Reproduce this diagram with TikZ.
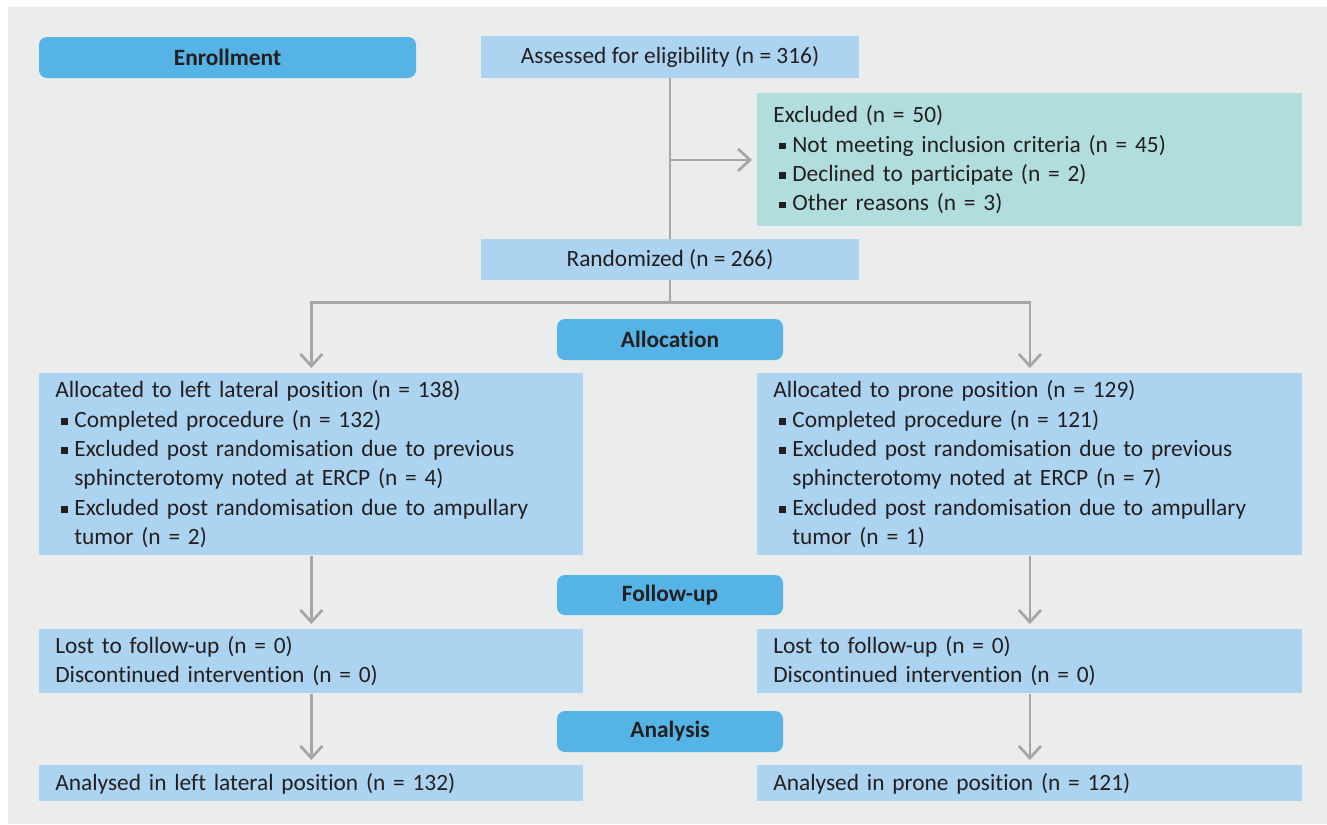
\documentclass[tikz,border=0pt]{standalone}
\usepackage{fontspec}
\setmainfont{Carlito}[Ligatures=NoCommon]
\usetikzlibrary{arrows.meta}
\definecolor{phaseblue}{HTML}{55B3E6}
\definecolor{boxblue}{HTML}{ACD3F0}
\definecolor{boxteal}{HTML}{B1DDDC}
\definecolor{bggray}{HTML}{EBECEC}
\definecolor{linegray}{HTML}{A6A6A6}
\definecolor{inkdark}{HTML}{231F20}
\newcommand{\sqb}{\hspace*{0.12cm}\rule[0.055cm]{0.13cm}{0.13cm}\hspace*{0.13cm}}
\newcommand{\ind}{\hspace*{0.38cm}}
\begin{document}
\begin{tikzpicture}[
  txt/.style={text=inkdark,font=\fontsize{13.3pt}{16.7pt}\selectfont},
  phase/.style={txt,rounded corners=0.16cm,fill=phaseblue,minimum height=0.82cm,font=\fontsize{13.3pt}{16.7pt}\selectfont\bfseries},
  lbox/.style={txt,fill=boxblue,anchor=north west,inner xsep=0.32cm,align=left},
  conn/.style={draw=linegray,line width=0.054cm},
  arr/.style={conn,-{Straight Barb[length=0.24cm,width=0.44cm,line width=0.054cm]},shorten >=0.1cm}]
\useasboundingbox (0,0) rectangle (26.54,-16.48);
\fill[bggray] (0.16,-0.14) rectangle (26.54,-16.48);
% enrollment
\node (enroll) at (4.55cm,-1.15cm) [phase,minimum width=7.54cm] {Enrollment};
\node (assess) at (13.40cm,-1.14cm) [txt,fill=boxblue,minimum width=7.56cm,minimum height=0.84cm] {Assessed for eligibility (n = 316)};
\node (excl) at (15.14cm,-1.86cm) [lbox,fill=boxteal,text width=10.26cm,minimum height=2.66cm] {Excluded (n = 50)\\
\sqb Not meeting inclusion criteria (n = 45)\\
\sqb Declined to participate (n = 2)\\
\sqb Other reasons (n = 3)};
\node (rand) at (13.40cm,-5.19cm) [txt,fill=boxblue,minimum width=7.56cm,minimum height=0.82cm] {Randomized (n = 266)};
% allocation
\node (alloc) at (13.40cm,-6.79cm) [phase,minimum width=4.52cm] {Allocation};
\node (allocL) at (0.78cm,-7.46cm) [lbox,text width=10.24cm,minimum height=3.64cm] {Allocated to left lateral position (n = 138)\\
\sqb Completed procedure (n = 132)\\
\sqb Excluded post randomisation due to previous\\
\ind sphincterotomy noted at ERCP (n = 4)\\
\sqb Excluded post randomisation due to ampullary\\
\ind tumor (n = 2)};
\node (allocR) at (15.14cm,-7.46cm) [lbox,text width=10.26cm,minimum height=3.64cm] {Allocated to prone position (n = 129)\\
\sqb Completed procedure (n = 121)\\
\sqb Excluded post randomisation due to previous\\
\ind sphincterotomy noted at ERCP (n = 7)\\
\sqb Excluded post randomisation due to ampullary\\
\ind tumor (n = 1)};
% follow-up
\node (follow) at (13.40cm,-11.90cm) [phase,minimum width=4.52cm,minimum height=0.80cm] {Follow-up};
\node (lostL) at (0.78cm,-12.58cm) [lbox,text width=10.24cm,minimum height=1.28cm] {Lost to follow-up (n = 0)\\
Discontinued intervention (n = 0)};
\node (lostR) at (15.14cm,-12.58cm) [lbox,text width=10.26cm,minimum height=1.28cm] {Lost to follow-up (n = 0)\\
Discontinued intervention (n = 0)};
% analysis
\node (analysis) at (13.40cm,-14.63cm) [phase,minimum width=4.52cm] {Analysis};
\node (anaL) at (0.78cm,-15.30cm) [lbox,text width=10.24cm,minimum height=0.72cm] {Analysed in left lateral position (n = 132)};
\node (anaR) at (15.14cm,-15.30cm) [lbox,text width=10.26cm,minimum height=0.72cm] {Analysed in prone position (n = 121)};
% connectors
\draw[conn] (assess) -- (rand);
\draw[arr] (assess.south |- excl.west) -- (excl.west);
\draw[arr] (rand.south) -- ++(0,-0.44) -| (allocL.north);
\draw[arr] (rand.south) -- ++(0,-0.44) -| (allocR.north);
\draw[arr] (allocL) -- (lostL);
\draw[arr] (allocR) -- (lostR);
\draw[arr] (lostL) -- (anaL);
\draw[arr] (lostR) -- (anaR);
\end{tikzpicture}
\end{document}
